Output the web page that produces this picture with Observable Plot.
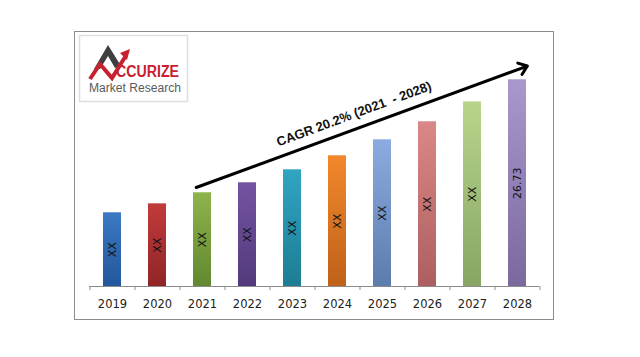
<!DOCTYPE html>
<html>
<head>
<meta charset="utf-8">
<script src="https://cdn.jsdelivr.net/npm/d3@7"></script>
<script src="https://cdn.jsdelivr.net/npm/@observablehq/plot@0.6"></script>
<style>
html, body { margin: 0; padding: 0; background: #fff; }
#wrap { position: relative; width: 640px; height: 357px; overflow: hidden; }
#frame { position: absolute; left: 74px; top: 31px; width: 478px; height: 287px; border: 1px solid #8c8c8c; pointer-events: none; }
#logo { position: absolute; left: 79px; top: 35px; overflow: visible; }
#chart { position: absolute; left: 0; top: 0; }
</style>
</head>
<body>
<div id="wrap">
  <div id="chart"></div>
  <div id="frame"></div>
  <svg id="logo" width="120" height="72" viewBox="0 0 120 72">
    <rect x="0.5" y="0.5" width="108" height="66" fill="#fff" stroke="#dedede" stroke-width="1.5"/>
    <polygon points="15,34 29,10 42,31 36,33 29,21 21,34" fill="#3f3f42"/>
    <polyline points="11,44 21,29 33,43 46,22" fill="none" stroke="#c8202f" stroke-width="4" stroke-linejoin="miter"/>
    <polygon points="51,14 41,18 48,25" fill="#c8202f"/>
    <text x="37" y="42" font-family="Liberation Sans, Arial, sans-serif" font-weight="bold" font-size="16" fill="#c8202f" textLength="63" lengthAdjust="spacingAndGlyphs">CCURIZE</text>
    <text x="10" y="57" font-family="Liberation Sans, Arial, sans-serif" font-size="12" fill="#5a5a5a" textLength="92" lengthAdjust="spacingAndGlyphs">Market Research</text>
  </svg>
</div>
<script>
// ---- data ----
const years = ["2019", "2020", "2021", "2022", "2023", "2024", "2025", "2026", "2027", "2028"];
const values = [9.53, 10.69, 12.12, 13.41, 15.09, 16.90, 18.97, 21.30, 23.88, 26.73];
const barLabels = ["XX", "XX", "XX", "XX", "XX", "XX", "XX", "XX", "XX", "26.73"];
const topColors = ["#3b79c4", "#c23b3b", "#8db44b", "#7353a2", "#31a5c2", "#f2882c", "#8cabe0", "#db8787", "#b8d48c", "#a898cd"];
const bottomColors = ["#23579a", "#902527", "#628830", "#533a7c", "#1d7c94", "#bf611a", "#5c7cad", "#ad5f5f", "#87a663", "#7b699e"];
const cagrText = "CAGR 20.2% (2021  - 2028)";
const arrowFrom = { year: "2021", value: 13.1 };
const arrowTo = { year: "2028", value: 28.04 };
const cagrAt = { year: "2024", value: 22.3 };

const data = years.map((year, i) => ({
  year, value: values[i], label: barLabels[i], fill: `url(#bar-grad-${i})`
}));

const chart = Plot.plot({
  width: 640,
  height: 357,
  marginLeft: 89,
  marginRight: 101,
  marginTop: 54,
  marginBottom: 71,
  style: { fontFamily: "DejaVu Sans, sans-serif", fontSize: "11px", color: "#222", background: "transparent", overflow: "visible" },
  x: { domain: years, paddingInner: 0.6, paddingOuter: 0.3, axis: null },
  y: { domain: [0, 30], axis: null },
  color: { type: "identity" },
  marks: [
    Plot.barY(data, { x: "year", y: "value", fill: "fill" }),
    Plot.ruleY([0], { stroke: "#8c8c8c" }),
    Plot.ruleX(years, { x: d => d, y1: 0, y2: 0, dx: -22.5, insetBottom: -4, stroke: "#8c8c8c" }),
    Plot.ruleX(years.slice(-1), { x: d => d, y1: 0, y2: 0, dx: 22.5, insetBottom: -4, stroke: "#8c8c8c" }),
    Plot.axisX({ tickSize: 0, tickPadding: 13, label: null, fill: "#222", fontSize: 11.5 }),
    Plot.text(data, { x: "year", y: d => d.value / 2, text: "label", rotate: -90, fill: "#111", fontSize: 11 }),
    Plot.arrow([{ from: arrowFrom, to: arrowTo }], {
      x1: d => d.from.year, y1: d => d.from.value,
      x2: d => d.to.year, y2: d => d.to.value,
      stroke: "#000", strokeWidth: 3, headAngle: 75, headLength: 5,
      insetStart: -6.7, insetEnd: -10.5
    }),
    Plot.text([cagrAt], {
      x: "year", y: "value", text: () => cagrText, rotate: -20.4, dx: 16.5,
      fontWeight: "bold", fontSize: 13, fontFamily: "Liberation Sans, Arial, sans-serif", fill: "#111"
    })
  ]
});

const defs = d3.select(chart).insert("defs", ":first-child");
years.forEach((y, i) => {
  const g = defs.append("linearGradient").attr("id", `bar-grad-${i}`).attr("x1", 0).attr("y1", 0).attr("x2", 0).attr("y2", 1);
  g.append("stop").attr("offset", "0%").attr("stop-color", topColors[i]);
  g.append("stop").attr("offset", "100%").attr("stop-color", bottomColors[i]);
});

document.getElementById("chart").appendChild(chart);
</script>
</body>
</html>
